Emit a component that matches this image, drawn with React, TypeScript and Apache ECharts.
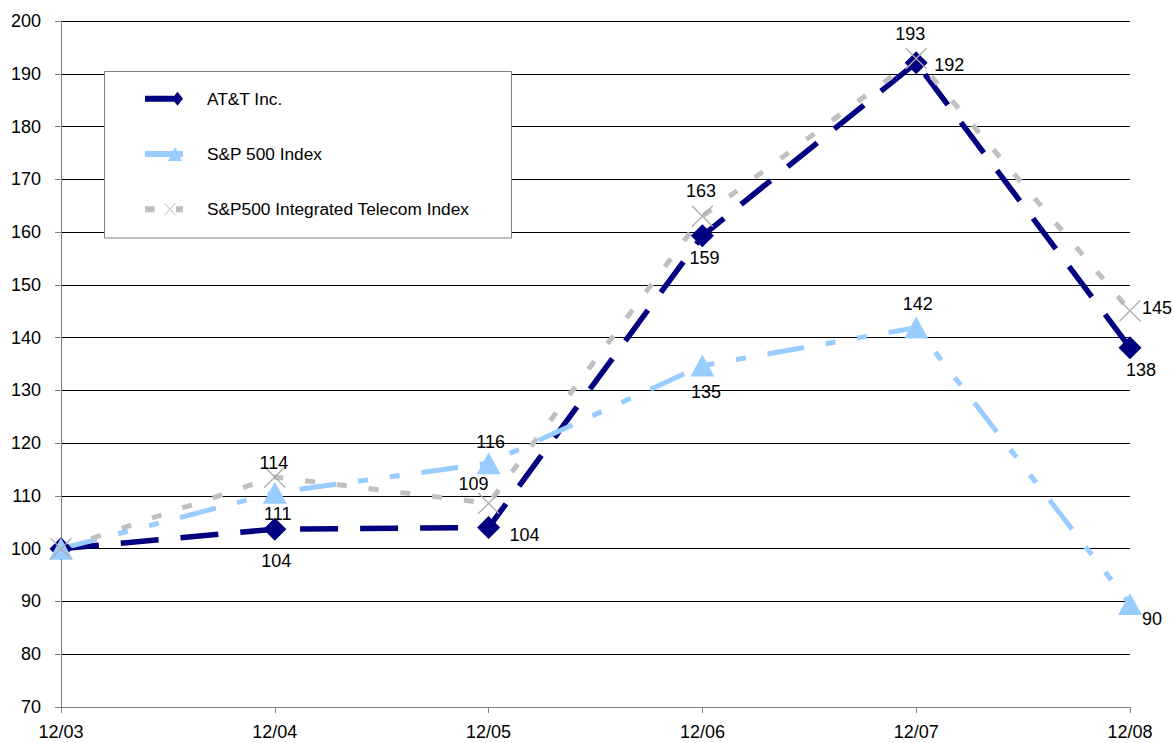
import React, { useEffect, useRef } from "react";
import * as echarts from "echarts";

// ---------- data ----------
const categories = ["12/03", "12/04", "12/05", "12/06", "12/07", "12/08"];
const seriesNames = ["AT&T Inc.", "S&P 500 Index", "S&P500 Integrated Telecom Index"];
const attValues = [100, 103.7, 104.0, 159.3, 192.1, 138.1];
const sp500Values = [100, 110.6, 116.2, 134.7, 141.9, 89.5];
const telecomValues = [100, 113.6, 108.6, 163.0, 192.9, 145.1];
const yMin = 70;
const yMax = 200;
const yStep = 10;

// ---------- label placement (px offsets from marker centre; null = no label) ----------
const attLabelOffsets: (number[] | null)[] = [null, [1.5, 32], [36, 7.5], [2, 22], [33, 2], [11, 22.5]];
const spLabelOffsets: (number[] | null)[] = [null, [3, 21], [2, -21], [3.5, 26], [1.5, -24], [22, 15]];
const telLabelOffsets: (number[] | null)[] = [null, [-1, -14], [-15, -19], [-1.5, -25], [-6, -24], [27, -2.4]];

const FONT = "'Liberation Sans', Arial, Helvetica, sans-serif";
const NAVY = "#000080";
const LIGHT_BLUE = "#99CCFF";
const GREY = "#C0C0C0";

function buildData(values: number[], offsets: (number[] | null)[]) {
  return values.map((v, i) => {
    const off = offsets[i];
    return {
      value: v,
      label: off
        ? { show: true, position: "inside", offset: off }
        : { show: false },
    };
  });
}

const labelBase = {
  show: true,
  color: "#000",
  fontSize: 18,
  fontFamily: FONT,
  textBorderWidth: 0,
  textBorderColor: "transparent",
  formatter: (p: any) => String(Math.round(p.value)),
};

export default function App() {
  const ref = useRef<HTMLDivElement>(null);

  useEffect(() => {
    const chart = echarts.init(ref.current!, null, { renderer: "svg" });
    chart.setOption({
      animation: false,
      backgroundColor: "#fff",
      textStyle: { fontFamily: FONT },
      grid: { left: 61, right: 44, top: 21, bottom: 36, outerBoundsMode: "none" },
      xAxis: {
        type: "category",
        data: categories,
        boundaryGap: false,
        axisLine: { show: true, lineStyle: { color: "#808080", width: 1 } },
        axisTick: { show: true, length: 6, lineStyle: { color: "#808080" } },
        axisLabel: { color: "#000", fontSize: 18, margin: 16, fontFamily: FONT },
        splitLine: { show: false },
      },
      yAxis: {
        type: "value",
        min: yMin,
        max: yMax,
        interval: yStep,
        axisLine: { show: true, lineStyle: { color: "#808080", width: 1 } },
        axisTick: { show: true, length: 6, lineStyle: { color: "#808080" } },
        axisLabel: { color: "#000", fontSize: 18, margin: 20, fontFamily: FONT },
        splitLine: { show: true, lineStyle: { color: "#000", width: 1 } },
      },
      graphic: {
        elements: [
          {
            type: "rect",
            z: 3,
            shape: { x: 104.5, y: 71.5, width: 407, height: 166.5 },
            style: { fill: "#fff", stroke: "#808080", lineWidth: 1 },
          },
        ],
      },
      legend: {
        orient: "vertical",
        left: 145,
        top: 90.3,
        padding: 0,
        itemWidth: 38,
        itemHeight: 14,
        itemGap: 38.2,
        z: 10,
        selectedMode: false,
        textStyle: {
          fontSize: 17.3,
          color: "#000",
          lineHeight: 14,
          padding: [0, 0, 0, 19],
          fontFamily: FONT,
        },
        data: [
          {
            name: seriesNames[0],
            icon: "path://M0,4L29,4L29,10L0,10Z M32.5,0L38,7L32.5,14L27,7Z",
            itemStyle: { borderWidth: 0 },
          },
          {
            name: seriesNames[1],
            icon: "path://M0,4L38,4L38,10L0,10Z M30,0L37,14L23,14Z",
            itemStyle: { borderWidth: 0 },
          },
          {
            name: seriesNames[2],
            icon:
              "path://M0,4L9.5,4L9.5,10L0,10Z M31,4L38,4L38,10L31,10Z M19,1L20.2,1L31,13L29.8,13Z M31,1L29.8,1L19,13L20.2,13Z",
            itemStyle: { borderWidth: 0 },
          },
        ],
      },
      series: [
        {
          name: seriesNames[0],
          type: "line",
          data: buildData(attValues, attLabelOffsets),
          symbol: "diamond",
          symbolSize: [23, 23],
          showAllSymbol: true,
          itemStyle: { color: NAVY, borderWidth: 0 },
          lineStyle: { color: NAVY, width: 5.5, type: [38, 22] },
          label: labelBase,
          emphasis: { disabled: true },
        },
        {
          name: seriesNames[1],
          type: "line",
          data: buildData(sp500Values, spLabelOffsets),
          symbol: "triangle",
          symbolSize: [24, 22],
          showAllSymbol: true,
          itemStyle: { color: LIGHT_BLUE, borderWidth: 0 },
          lineStyle: { color: LIGHT_BLUE, width: 5, type: [37, 22, 10, 22, 10, 22] },
          label: labelBase,
          emphasis: { disabled: true },
        },
        {
          name: seriesNames[2],
          type: "line",
          data: buildData(telecomValues, telLabelOffsets),
          symbol: "path://M0,0L10,10M10,0L0,10",
          symbolSize: 21,
          showAllSymbol: true,
          itemStyle: { color: GREY, borderColor: "#adadad", borderWidth: 1.3 },
          lineStyle: { color: GREY, width: 5, type: [10, 22] },
          label: labelBase,
          emphasis: { disabled: true },
        },
      ],
    });
    return () => chart.dispose();
  }, []);

  return (
    <div
      ref={ref}
      style={{ position: "absolute", left: 0, top: 0, width: 1174, height: 743, background: "#fff" }}
    />
  );
}
